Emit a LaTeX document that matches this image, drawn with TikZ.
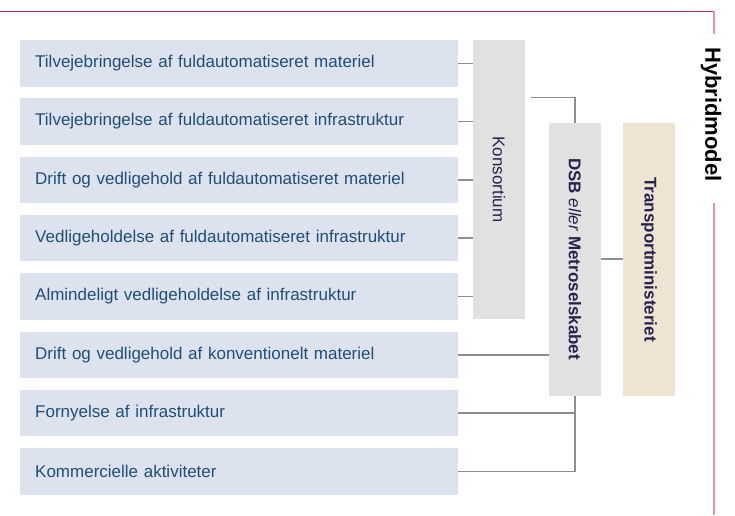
\documentclass[tikz,border=0pt]{standalone}
\usepackage{fontspec}
\setmainfont{Liberation Sans}
\usetikzlibrary{calc}
\definecolor{boxblue}{HTML}{DCE3EE}
\definecolor{txtblue}{HTML}{1F4E79}
\definecolor{boxgrey}{HTML}{E1E1E1}
\definecolor{boxsand}{HTML}{EFE3D3}
\definecolor{navy}{HTML}{24244F}
\definecolor{conn}{HTML}{8E8E8E}
\definecolor{darkred}{HTML}{B03048}
\definecolor{pinkred}{HTML}{E496A8}
\tikzset{
  taskbox/.style={draw=none, fill=boxblue, text=txtblue, anchor=west,
    text width=408pt, inner xsep=15pt, inner ysep=0pt, minimum height=46.5pt,
    align=left, font=\fontsize{17}{20}\selectfont},
  orgbox/.style={draw=none, fill=boxgrey, minimum width=52pt, inner sep=0pt},
  orgtext/.style={text=navy, rotate=-90, font=\fontsize{17}{20}\selectfont},
  link/.style={draw=conn, line width=1.5pt}
}
\begin{document}
\begin{tikzpicture}[x=1pt,y=-1pt]
\useasboundingbox (0,0) rectangle (735,515);
% title frame
\draw[darkred, line width=1pt] (0,11.5) -- (714,11.5);
\draw[pinkred, line width=1.8pt] (714,11) -- (714,34);
\draw[pinkred, line width=1.8pt] (714,203) -- (714,515);
\node[rotate=-90, font=\fontsize{22}{26}\selectfont\bfseries, text=black] (title) at (711,114.5) {Hybridmodel};
% task boxes
\node[taskbox] (b1) at (20,63.25) {Tilvejebringelse af fuldautomatiseret materiel};
\node[taskbox] (b2) at (20,121.55) {Tilvejebringelse af fuldautomatiseret infrastruktur};
\node[taskbox] (b3) at (20,179.85) {Drift og vedligehold af fuldautomatiseret materiel};
\node[taskbox] (b4) at (20,238.15) {Vedligeholdelse af fuldautomatiseret infrastruktur};
\node[taskbox] (b5) at (20,296.45) {Almindeligt vedligeholdelse af infrastruktur};
\node[taskbox] (b6) at (20,354.75) {Drift og vedligehold af konventionelt materiel};
\node[taskbox] (b7) at (20,413.05) {Fornyelse af infrastruktur};
\node[taskbox] (b8) at (20,471.35) {Kommercielle aktiviteter};
% organisation boxes
\node[orgbox, minimum height=279pt] (kons) at (499,179.5) {};
\node[orgtext] at (kons.center) {Konsortium};
\node[orgbox, minimum height=273pt] (dsb) at (575,259.2) {};
\node[orgtext] at (dsb.center) {\textbf{DSB} \textit{eller} \textbf{Metroselskabet}};
\node[orgbox, fill=boxsand, minimum height=273pt] (tm) at (649,259.5) {};
\node[orgtext] at (tm.center) {\textbf{Transportministeriet}};
% connectors
\foreach \b in {b1,b2,b3,b4,b5}
  \draw[link] (\b.east) -- (\b.east -| kons.west);
\coordinate (kstart) at ($(kons.north east)+(6,57.7)$);
\draw[link] (kstart) -| (dsb.north);
\draw[link] (dsb.east) -- (dsb.east -| tm.west);
\draw[link] (b6.east) -- (b6.east -| dsb.west);
\draw[link] (b7.east) -- (b7.east -| dsb.south);
\draw[link] (b8.east) -| (dsb.south);
\end{tikzpicture}
\end{document}
